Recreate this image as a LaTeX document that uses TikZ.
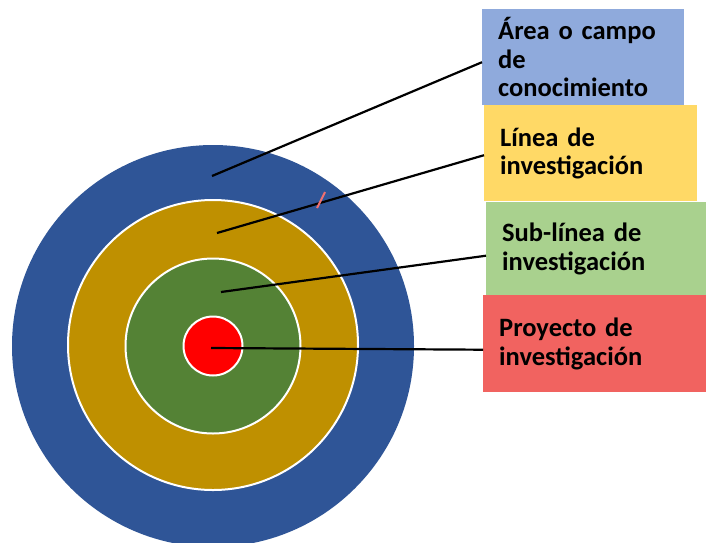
\documentclass[tikz,border=0pt]{standalone}
\usepackage{fontspec}
\setmainfont[WordSpace=0.8]{Carlito}
\definecolor{ringblue}{HTML}{2F5597}
\definecolor{ringgold}{HTML}{BF9000}
\definecolor{ringgreen}{HTML}{548235}
\definecolor{boxblue}{HTML}{8FAADC}
\definecolor{boxyellow}{HTML}{FFD966}
\definecolor{boxgreen}{HTML}{A9D18E}
\definecolor{boxred}{HTML}{F16360}
\definecolor{markred}{HTML}{F07070}
\begin{document}
\begin{tikzpicture}[x=1pt,y=-1pt,
  ring/.style={circle, draw=white, line width=2pt, inner sep=0pt},
  label box/.style={rectangle, anchor=north west, inner sep=0pt, inner xsep=16pt,
    align=left, font=\bfseries\fontsize{26.5}{28.5}\selectfont, text=black},
  connector/.style={draw=black, line width=2.2pt}]
\useasboundingbox (0,0) rectangle (706,542);
\fill[white] (0,0) rectangle (706,542);
\begin{scope}
\clip (0,0) rectangle (706,542);
\node[ring, draw=none, fill=ringblue, minimum size=402pt] (outer) at (213,346) {};
\node[ring, fill=ringgold, minimum size=290pt] (gold) at (213,345) {};
\node[ring, fill=ringgreen, minimum size=175pt] (green) at (213,346) {};
\node[ring, fill=red, minimum size=59pt] (core) at (213,346) {};
\end{scope}
\node[label box, fill=boxblue, minimum width=202pt, minimum height=96pt, text width=170pt] (b1) at (482,9) {Área o campo\\de\\conocimiento};
\node[label box, fill=boxyellow, minimum width=213pt, minimum height=96pt, text width=181pt] (b2) at (484,105) {Línea de\\investigación};
\node[label box, fill=boxgreen, minimum width=220pt, minimum height=93pt, text width=188pt] (b3) at (486,202) {Sub-línea de\\investigación};
\node[label box, fill=boxred, minimum width=223pt, minimum height=97pt, text width=191pt] (b4) at (483,295) {Proyecto de\\investigación};
\coordinate (p1) at (212,176);
\coordinate (p2) at (217,233);
\coordinate (p3) at (221,292);
\coordinate (p4) at (211,348);
\draw[connector] (p1) -- ([yshift=-5pt]b1.west);
\draw[connector] (p2) -- ([yshift=-2pt]b2.west);
\draw[connector] (p3) -- ([yshift=-7pt]b3.west);
\draw[connector] (p4) -- ([yshift=-6pt]b4.west);
\coordinate (m1) at (317,208);
\coordinate (m2) at (325,192);
\draw[draw=markred, line width=2pt] (m1) -- (m2);
\end{tikzpicture}
\end{document}
